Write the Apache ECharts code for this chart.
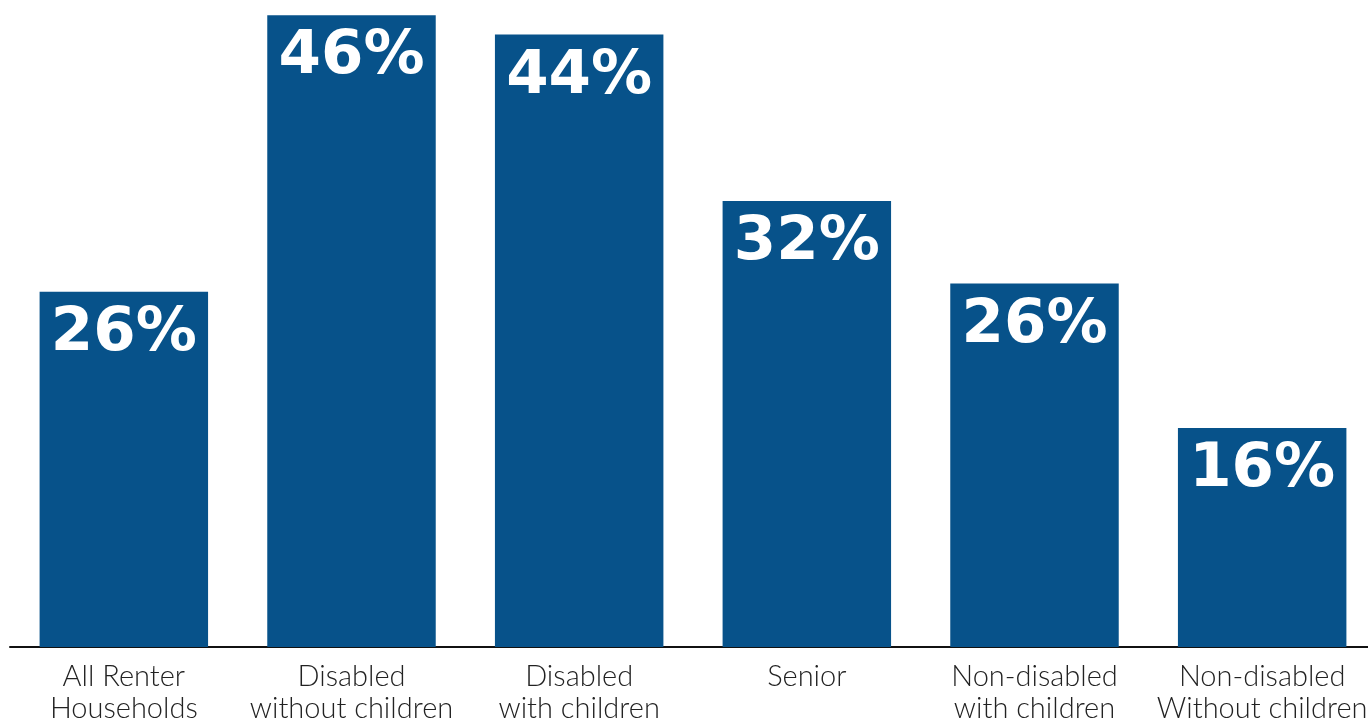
<!DOCTYPE html>
<html>
<head>
<meta charset="utf-8">
<script src="https://cdn.jsdelivr.net/npm/echarts@6/dist/echarts.min.js"></script>
<style>html,body{margin:0;padding:0;background:#fff}#c{width:1368px;height:724px}</style>
</head>
<body>
<div id="c"></div>
<script>
const categories = ['All Renter\nHouseholds', 'Disabled\nwithout children', 'Disabled\nwith children', 'Senior', 'Non-disabled\nwith children', 'Non-disabled\nWithout children'];
const values = [25.8, 45.9, 44.5, 32.4, 26.4, 15.9];
const labels = ['26%', '46%', '44%', '32%', '26%', '16%'];

const chart = echarts.init(document.getElementById('c'));
chart.setOption({
  animation: false,
  grid: { left: 10, width: 1366, top: 0, bottom: 77, containLabel: false, outerBoundsMode: 'none' },
  xAxis: {
    type: 'category',
    data: categories,
    axisLine: { lineStyle: { color: '#111', width: 2 } },
    axisTick: { show: false },
    axisLabel: { color: '#222', fontFamily: 'Lato', fontSize: 29, fontWeight: 300, lineHeight: 32, margin: 14, interval: 0 }
  },
  yAxis: { type: 'value', min: 0, max: 47, show: false, splitLine: { show: false } },
  series: [{
    type: 'bar',
    data: values,
    barCategoryGap: '26%',
    itemStyle: { color: '#07528A' },
    label: {
      show: true,
      position: 'insideTop',
      distance: 12,
      color: '#fff',
      fontFamily: 'DejaVu Sans',
      fontWeight: 'bold',
      fontSize: 61,
      formatter: p => labels[p.dataIndex]
    }
  }]
});
</script>
</body>
</html>
